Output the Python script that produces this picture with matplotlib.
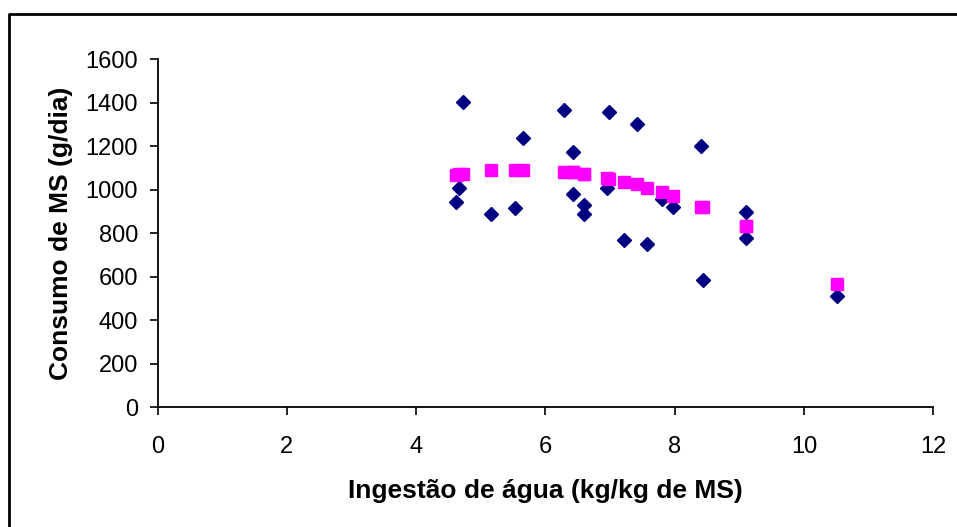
import matplotlib.pyplot as plt
from matplotlib.lines import Line2D

plt.rcParams['font.family'] = ['Liberation Sans', 'DejaVu Sans']

# ingestão de água (kg/kg de MS)
agua = [4.61, 4.67, 4.72, 5.16, 5.53, 5.65, 6.28, 6.43, 6.43, 6.59, 6.59, 6.95,
        6.98, 7.21, 7.42, 7.57, 7.80, 7.98, 8.41, 8.44, 9.10, 9.10, 10.51]
# consumo observado (g/dia)
consumo_obs = [943, 1009, 1403, 888, 915, 1238, 1366, 1173, 980, 928, 886, 1006,
               1356, 768, 1301, 750, 957, 921, 1200, 584, 896, 777, 509]
# consumo estimado (g/dia)
consumo_est = [1068, 1070, 1072, 1088, 1090, 1090, 1082, 1080, 1080, 1070, 1070, 1053,
               1050, 1035, 1024, 1006, 989, 970, 921, 918, 833, 833, 567]

xticks = [0, 2, 4, 6, 8, 10, 12]
yticks = [0, 200, 400, 600, 800, 1000, 1200, 1400, 1600]

fig = plt.figure(figsize=(9.57, 5.27), dpi=100)
ax = fig.add_axes([157.5/957, 1-407.2/527, (933.3-157.5)/957, (407.2-59)/527])

ax.plot(agua, consumo_obs, linestyle='none', marker='D', ms=7.0,
        color='#000080', mec='#000080', clip_on=False, zorder=3)
ax.plot(agua, consumo_est, linestyle='none', marker='s', ms=8.6,
        color='#FF00FF', mec='#FF00FF', clip_on=False, zorder=4)

ax.set_xlim(0, 12)
ax.set_ylim(0, 1600)
ax.set_xticks(xticks)
ax.set_yticks(yticks)
ax.tick_params(direction='out', length=6, width=1.2, labelsize=17, colors='black')
ax.tick_params(axis='x', pad=15)
ax.tick_params(axis='y', pad=8)
ax.spines['top'].set_visible(False)
ax.spines['right'].set_visible(False)
for s in ['left', 'bottom']:
    ax.spines[s].set_linewidth(1.3)

ax.set_xlabel('Ingestão de água (kg/kg de MS)', fontsize=19, fontweight='bold')
ax.set_ylabel('Consumo de MS (g/dia)', fontsize=19, fontweight='bold')
ax.xaxis.set_label_coords(0.5, -(491-407.2)/348.2)
ax.xaxis.label.set_va('center')
ax.yaxis.set_label_coords((61.5-157.5)/775.8, 0.5)
ax.yaxis.label.set_va('center')

# moldura externa
fx = 8.5/957
fy = 1-13.5/527
fig.add_artist(Line2D([fx, fx, 1.01], [-0.01, fy, fy], transform=fig.transFigure,
                      color='black', lw=2))

fig.savefig('out.png', dpi=100)
